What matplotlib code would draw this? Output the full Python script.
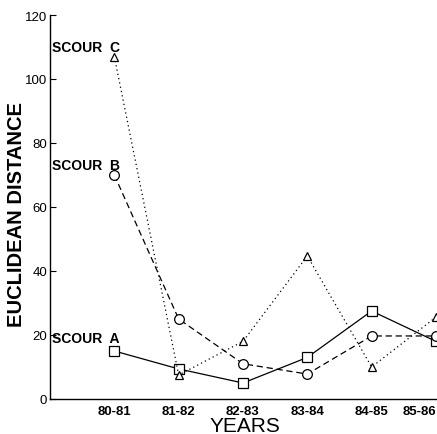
import matplotlib
matplotlib.use("Agg")
import matplotlib.pyplot as plt

YEARS = ["80-81", "81-82", "82-83", "83-84", "84-85", "85-86"]
SCOUR_A = [15, 9.4, 5, 13, 27.5, 18]
SCOUR_B = [70, 25, 11, 7.8, 19.7, 19.7]
SCOUR_C = [107, 7.5, 18, 44.7, 10, 25.6]

plt.rcParams["font.family"] = ["Liberation Sans", "DejaVu Sans"]

fig = plt.figure(figsize=(4.37, 4.35), dpi=100)
ax = fig.add_axes([50 / 437, 1 - 400 / 435, 386 / 437, 384 / 435])

xs = list(range(1, len(YEARS) + 1))
mk = dict(mfc="white", mec="black", mew=0.9, color="black", lw=0.9)
ax.plot(xs, SCOUR_A, ls="-", marker="s", ms=6.5, **mk)
ax.plot(xs, SCOUR_B, ls=(0, (5, 3)), marker="o", ms=7, **mk)
ax.plot(xs, SCOUR_C, ls=(0, (1, 2.5)), marker="^", ms=6, **mk)

lab = dict(fontsize=10, fontweight="bold", ha="left", va="center")
ax.text(0.03, 110, "SCOUR  C", **lab)
ax.text(0.03, 73, "SCOUR  B", **lab)
ax.text(0.03, 19, "SCOUR  A", **lab)

ax.set_xlim(0, 6)
ax.set_ylim(0, 120)
ax.set_yticks(range(0, 121, 20))
ax.set_xticks(xs)
ax.set_xticklabels(YEARS, fontweight="bold", fontsize=9.5)
ax.get_xticklabels()[-1].set_ha("right")
ax.tick_params(axis="y", direction="in", length=4, labelsize=9.5, pad=2)
ax.tick_params(axis="x", length=0, pad=4)
for s in ("top", "right"):
    ax.spines[s].set_visible(False)
for s in ("left", "bottom"):
    ax.spines[s].set_linewidth(1.0)

fig.text(17 / 437, 1 - 215 / 435, "EUCLIDEAN DISTANCE", fontsize=14.5,
         fontweight="bold", rotation=90, ha="center", va="center")
fig.text(245 / 437, 1 - 432 / 435, "YEARS", fontsize=15, ha="center", va="baseline")

fig.savefig("out.png", dpi=100)
